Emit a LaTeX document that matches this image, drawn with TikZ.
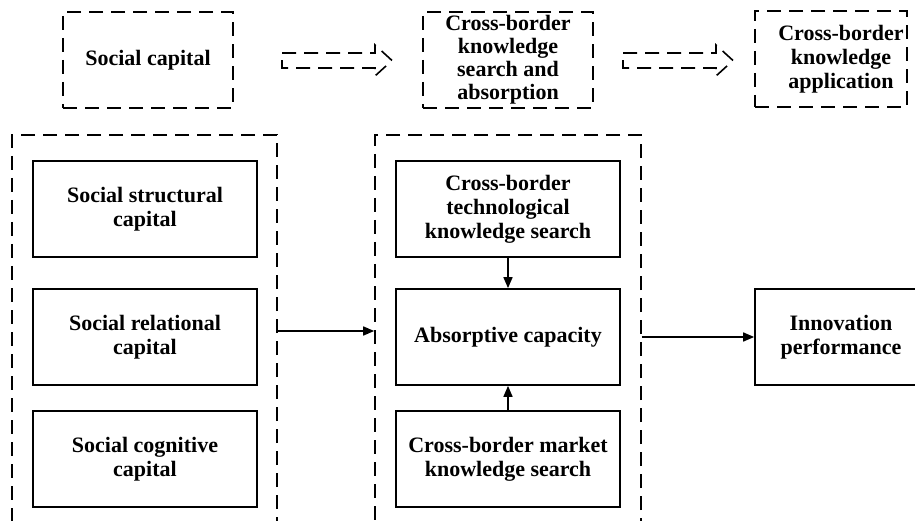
\documentclass[tikz,border=0pt]{standalone}
\usepackage{fontspec}
\setmainfont{Liberation Serif}
\usetikzlibrary{arrows.meta}
\tikzset{
  lbl/.style={font=\bfseries\fontsize{22}{24}\selectfont, align=center, inner sep=0pt},
  solidbox/.style={lbl, draw, line width=1.7pt, minimum width=224pt, minimum height=96pt},
  dashline/.style={line width=1.6pt, dash pattern=on 14pt off 8pt},
  dashbox/.style={lbl, draw, dashline, minimum height=96pt},
  arr/.style={line width=1.6pt, -{Triangle[length=11pt,width=9pt]}},
  blockarrow/.style={dashline, line join=miter}
}
\begin{document}
\begin{tikzpicture}[x=1pt, y=-1pt]
  \clip (0,0) rectangle (915,521);
  \fill[white] (0,0) rectangle (915,521);

  % top row: stages of the process
  \node[dashbox, minimum width=170pt] (sc) at (148,60) {Social capital};
  \node[dashbox, minimum width=170pt, font=\bfseries\fontsize{22}{23}\selectfont] (ksa) at (508,60)
       {Cross-border\\knowledge\\search and\\absorption};
  \node[dashbox, minimum width=152pt] (kap) at (831,59) {};
  \node[lbl] (kaptext) at (841,59) {Cross-border\\knowledge\\application};

  % hollow dashed arrows between the stages
  \draw[blockarrow] (282,53) -- (375,53) -- (375,45) -- (392,60.5) -- (375,76) -- (375,68) -- (282,68) -- cycle;
  \draw[blockarrow] (623,53) -- (716,53) -- (716,45) -- (733,60.5) -- (716,76) -- (716,68) -- (623,68) -- cycle;

  % dimension groups
  \node[draw, dashline, minimum width=265pt, minimum height=395pt] (lc) at (144.5,332.5) {};
  \node[draw, dashline, minimum width=266pt, minimum height=395pt] (mc) at (508,332.5) {};

  % social capital dimensions
  \node[solidbox] (ssc) at (145,209) {Social structural\\capital};
  \node[solidbox] (src) at (145,337) {Social relational\\capital};
  \node[solidbox] (scc) at (145,459) {Social cognitive\\capital};

  % knowledge search and absorption
  \node[solidbox] (tks) at (508,209) {Cross-border\\technological\\knowledge search};
  \node[solidbox] (ac)  at (508,337) {Absorptive capacity};
  \node[solidbox] (mks) at (508,459) {Cross-border market\\knowledge search};

  % outcome
  \node[solidbox, minimum width=172pt] (inn) at (841,337) {Innovation\\performance};

  % connectors
  \draw[arr] ([yshift=1.5pt]lc.east) -- ([yshift=1.5pt]mc.west);
  \draw[arr] (mc.east |- inn.west) -- (inn.west);
  \draw[arr] (tks.south) -- (ac.north);
  \draw[arr] (mks.north) -- (ac.south);
\end{tikzpicture}
\end{document}
